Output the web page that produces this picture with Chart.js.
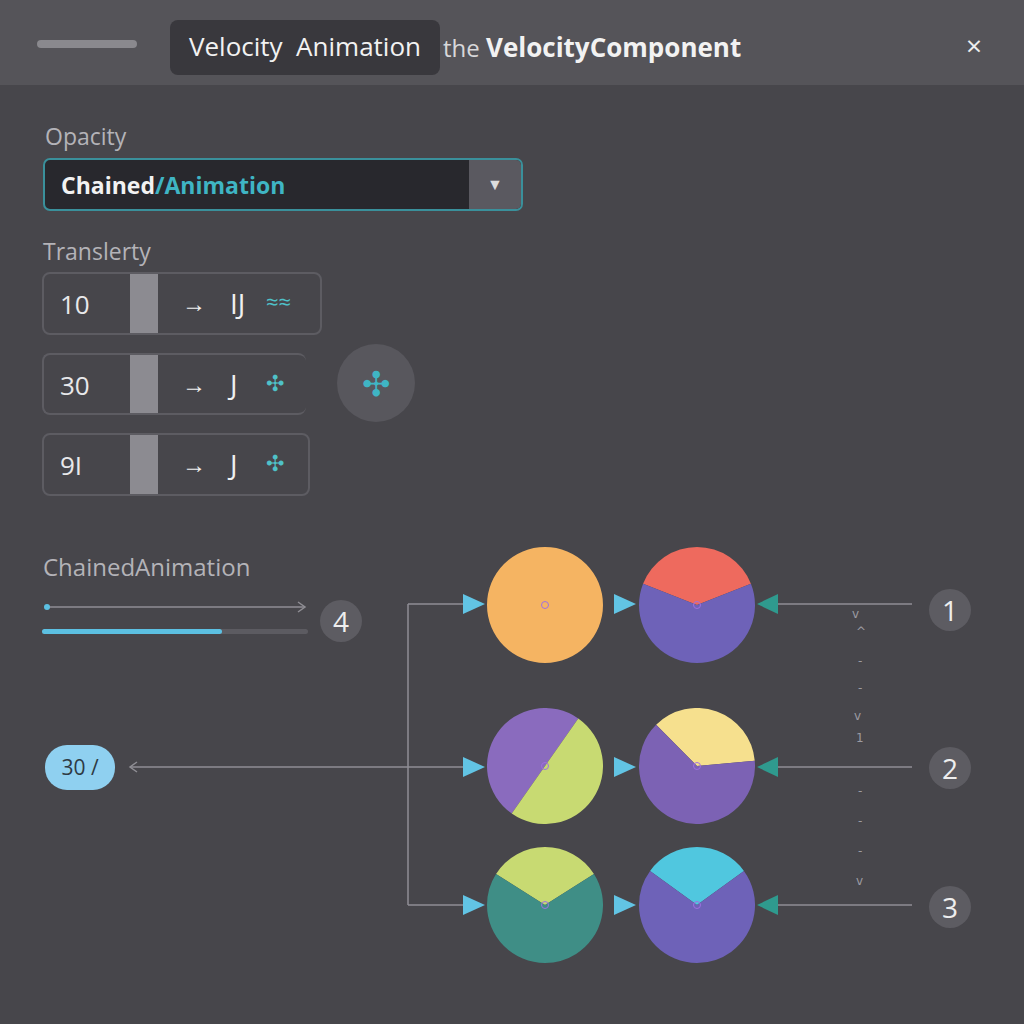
<!DOCTYPE html>
<html>
<head>
<meta charset="utf-8">
<script src="https://cdn.jsdelivr.net/npm/chart.js@4.4.1/dist/chart.umd.min.js"></script>
<style>
  body { margin:0; width:1024px; height:1024px; background:#47464b; font-family:"Open Sans", Roboto, sans-serif; position:relative; overflow:hidden; }
  .abs { position:absolute; }
  #top { left:0; top:0; width:1024px; height:85px; background:#555459; }
  .lbl { color:#b4b3b8; font-size:23px; }
  .row { border:2px solid #5d5c62; border-radius:8px; background:#47464b; }
  .row .num { position:absolute; left:16px; top:12px; color:#e8e8ea; font-size:26px; }
  .row .bar { position:absolute; left:86px; top:0; width:28px; height:100%; background:#8c8b91; }
  .row .ar { position:absolute; left:138px; top:12px; color:#f0f0f0; font-size:24px; }
  .row .j { position:absolute; left:186px; top:10px; color:#f0f0f0; font-size:28px; }
  .row .ic { position:absolute; left:222px; top:12px; color:#4fc1c8; font-size:22px; }
  .nc { width:42px; height:42px; border-radius:50%; background:#5d5c62; color:#eee; font-size:28px; text-align:center; line-height:42px; }
  canvas.pie { position:absolute; }
</style>
</head>
<body>
<div id="top" class="abs"></div>
<div class="abs" style="left:37px;top:40px;width:100px;height:8px;border-radius:4px;background:#8a898e"></div>
<div class="abs" style="left:170px;top:20px;width:270px;height:55px;border-radius:8px;background:#39383d;color:#f2f2f2;font-size:26px;line-height:52px;text-align:center">Velocity&nbsp; Animation</div>
<div class="abs" style="left:443px;top:29px;color:#d8d8da;font-size:24px">the <b style="color:#f2f2f2;font-size:26px">VelocityComponent</b></div>
<div class="abs" style="left:966px;top:26px;color:#eee;font-size:28px">×</div>

<div class="abs lbl" style="left:45px;top:120px">Opacity</div>
<div class="abs" style="left:43px;top:158px;width:476px;height:49px;border:2px solid #3a909b;border-radius:7px;background:#28282d;overflow:hidden">
  <div class="abs" style="left:16px;top:9px;font-size:23px;font-weight:bold;color:#f2f2f2">Chained<span style="color:#3fb5c4">/Animation</span></div>
  <div class="abs" style="left:424px;top:0;width:52px;height:49px;background:#5a5960;color:#ddd;text-align:center;line-height:49px;font-size:16px">▼</div>
</div>

<div class="abs lbl" style="left:43px;top:235px">Translerty</div>
<div class="abs row" style="left:42px;top:272px;width:276px;height:59px"><div class="num">10</div><div class="bar"></div><div class="ar">→</div><div class="j">IJ</div><div class="ic">≈≈</div></div>
<div class="abs row" style="left:42px;top:353px;width:262px;height:58px;border-right:none"><div class="num">30</div><div class="bar"></div><div class="ar">→</div><div class="j">J</div><div class="ic">✣</div></div>
<div class="abs row" style="left:42px;top:433px;width:264px;height:59px"><div class="num">9I</div><div class="bar"></div><div class="ar">→</div><div class="j">J</div><div class="ic">✣</div></div>
<div class="abs" style="left:337px;top:344px;width:78px;height:78px;border-radius:50%;background:#58575d;color:#3fb5c4;font-size:34px;text-align:center;line-height:78px">✣</div>

<div class="abs lbl" style="left:43px;top:550px;font-size:24px">ChainedAnimation</div>
<div class="abs" style="left:42px;top:629px;width:266px;height:5px;border-radius:3px;background:#5c5b61"></div>
<div class="abs" style="left:42px;top:629px;width:180px;height:5px;border-radius:3px;background:#5cc0e2"></div>
<div class="abs nc" style="left:320px;top:600px">4</div>
<div class="abs" style="left:45px;top:745px;width:70px;height:45px;border-radius:22px;background:#8fd0f0;color:#2e3a44;font-size:21px;text-align:center;line-height:45px">30 /</div>
<div class="abs nc" style="left:929px;top:589px">1</div>
<div class="abs nc" style="left:929px;top:747px">2</div>
<div class="abs nc" style="left:929px;top:886px">3</div>

<svg class="abs" style="left:0;top:0" width="1024" height="1024">
  <g stroke="#8f8e94" stroke-width="1.5" fill="none">
    <line x1="45" y1="607" x2="305" y2="607"/><polyline points="298,602 305,607 298,612"/>
    <line x1="130" y1="767" x2="465" y2="767"/><polyline points="137,762 130,767 137,772"/>
    <line x1="408" y1="604" x2="408" y2="905"/>
    <line x1="408" y1="604" x2="465" y2="604"/><line x1="408" y1="905" x2="465" y2="905"/>
    <line x1="775" y1="604" x2="912" y2="604"/><line x1="775" y1="767" x2="912" y2="767"/><line x1="775" y1="905" x2="912" y2="905"/>
  </g>
  <circle cx="47" cy="607" r="3" fill="#5cc0e2"/>
  <g fill="#62c4e4">
    <polygon points="463,594 485,604 463,614"/><polygon points="463,757 485,767 463,777"/><polygon points="463,895 485,905 463,915"/>
    <polygon points="614,594 636,604 614,614"/><polygon points="614,757 636,767 614,777"/><polygon points="614,895 636,905 614,915"/>
  </g>
  <g fill="#2f9a8e">
    <polygon points="778,594 757,604 778,614"/><polygon points="778,757 757,767 778,777"/><polygon points="778,895 757,905 778,915"/>
  </g>
  <g fill="#9c9ba2" font-size="12" font-family="DejaVu Sans">
    <text x="852" y="618">v</text><text x="856" y="636">^</text><text x="858" y="665">-</text><text x="858" y="692">-</text>
    <text x="854" y="720">v</text><text x="856" y="742">1</text><text x="858" y="795">-</text><text x="858" y="825">-</text><text x="858" y="855">-</text><text x="856" y="885">v</text>
  </g>
</svg>

<script>
// pie circles: top segment share (%) and colours
var circleNames = ['A1', 'B1', 'A2', 'B2', 'A3', 'B3'];
var topShare = [0, 38, 50, 36, 32, 30];
var topColor = ['#f5b462', '#ee6a5e', '#8a6bbe', '#f6e08e', '#c8da72', '#50c7df'];
var restColor = ['#f5b462', '#6e62b8', '#c8da72', '#7c62b4', '#3f8e86', '#6e62b8'];
// layout only
var centers = [[545, 605], [697, 605], [545, 766], [697, 766], [545, 905], [697, 905]];
var tilt = [0, 0, -55, 20, 0, 0];

for (var i = 0; i < circleNames.length; i++) {
  var c = document.createElement('canvas');
  c.className = 'pie';
  c.width = 116; c.height = 116;
  c.style.left = (centers[i][0] - 58) + 'px';
  c.style.top = (centers[i][1] - 58) + 'px';
  document.body.appendChild(c);
  new Chart(c.getContext('2d'), {
    type: 'pie',
    data: {
      labels: ['top', 'rest'],
      datasets: [{ data: [topShare[i], 100 - topShare[i]], backgroundColor: [topColor[i], restColor[i]], borderWidth: 0 }]
    },
    options: {
      responsive: false,
      animation: false,
      rotation: -topShare[i] * 1.8 + tilt[i],
      plugins: { legend: { display: false }, tooltip: { enabled: false } }
    }
  });
  var d = document.createElement('div');
  d.className = 'abs';
  d.style.cssText = 'left:' + (centers[i][0] - 4) + 'px;top:' + (centers[i][1] - 4) + 'px;width:6px;height:6px;border:1px solid #a070e0;border-radius:50%';
  document.body.appendChild(d);
}
</script>
</body>
</html>
